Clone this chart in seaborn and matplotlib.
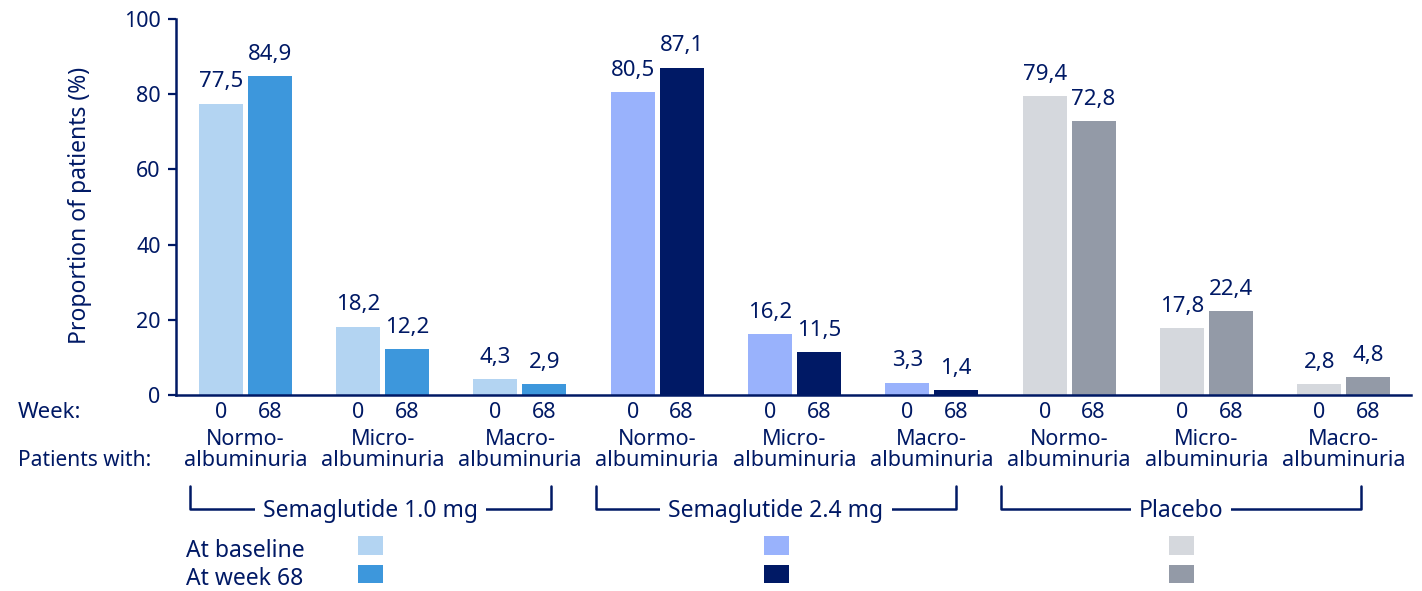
import matplotlib
matplotlib.use("Agg")
import matplotlib.pyplot as plt
import matplotlib.transforms as mtransforms
from matplotlib.patches import Rectangle
import pandas as pd
import seaborn as sns

# ---- data -------------------------------------------------------------
treatments = ["Semaglutide 1.0 mg", "Semaglutide 2.4 mg", "Placebo"]
conditions = ["Normo-\nalbuminuria", "Micro-\nalbuminuria", "Macro-\nalbuminuria"]
weeks = ["0", "68"]
baseline_values = {
    "Semaglutide 1.0 mg": [77.5, 18.2, 4.3],
    "Semaglutide 2.4 mg": [80.5, 16.2, 3.3],
    "Placebo": [79.4, 17.8, 2.8],
}
week68_values = {
    "Semaglutide 1.0 mg": [84.9, 12.2, 2.9],
    "Semaglutide 2.4 mg": [87.1, 11.5, 1.4],
    "Placebo": [72.8, 22.4, 4.8],
}
palettes = {
    "Semaglutide 1.0 mg": ["#b3d4f2", "#3d97dc"],
    "Semaglutide 2.4 mg": ["#99b2fc", "#001965"],
    "Placebo": ["#d5d8dd", "#939aa7"],
}
legend_labels = ["At baseline", "At week 68"]
yticks = [0, 20, 40, 60, 80, 100]

# ---- long table -------------------------------------------------------
rows = []
slots = []
for t in treatments:
    for j, cond in enumerate(conditions):
        slot = f"{t}|{cond}"
        slots.append(slot)
        rows.append(dict(treatment=t, slot=slot, week="0", value=baseline_values[t][j]))
        rows.append(dict(treatment=t, slot=slot, week="68", value=week68_values[t][j]))
df = pd.DataFrame(rows)

# ---- style ------------------------------------------------------------
NAVY = "#001965"
sns.set_style("white")
plt.rcParams["font.family"] = ["Noto Sans", "DejaVu Sans"]
plt.rcParams["text.color"] = NAVY
plt.rcParams["axes.labelcolor"] = NAVY
plt.rcParams["xtick.color"] = NAVY
plt.rcParams["ytick.color"] = NAVY

W, H = 1422, 591
fig = plt.figure(figsize=(W / 100, H / 100), dpi=100)


def fx(px):
    return px / W


def fy(py):
    return 1 - py / H


ax = fig.add_axes([fx(176), fy(395), fx(1411) - fx(176), fy(19) - fy(395)])

BAR_GROUP_WIDTH = 0.712
for t in treatments:
    sub = df[df.treatment == t]
    sns.barplot(
        data=sub, x="slot", y="value", hue="week",
        order=slots, hue_order=weeks, palette=palettes[t],
        width=BAR_GROUP_WIDTH, gap=0.1, saturation=1,
        errorbar=None, legend=False, linewidth=0, ax=ax,
    )

# value labels above bars
for container in ax.containers:
    labels = [f"{b.get_height():.1f}".replace(".", ",") for b in container]
    ax.bar_label(container, labels=labels, padding=8, fontsize=16, color=NAVY)

ax.set_xlim(-0.505, 8.49)
ax.set_ylim(0, 100)
ax.set_yticks(yticks)
ax.set_xlabel("")
ax.set_ylabel("")
ax.tick_params(axis="y", length=6, width=1.6, labelsize=15.5, pad=5, direction="out", left=True)
ax.tick_params(axis="x", bottom=False, labelbottom=False)
for side in ["top", "right"]:
    ax.spines[side].set_visible(False)
for side in ["left", "bottom"]:
    ax.spines[side].set_color(NAVY)
    ax.spines[side].set_linewidth(1.8)

fig.text(fx(80), fy(205), "Proportion of patients (%)", rotation=90,
         ha="center", va="center", fontsize=16.5, color=NAVY)

# ---- category annotations below the axis ------------------------------
xfig = mtransforms.blended_transform_factory(ax.transData, fig.transFigure)
offset = BAR_GROUP_WIDTH / 4
for i, slot in enumerate(slots):
    cond = conditions[i % 3]
    ax.text(i - offset, fy(413), weeks[0], transform=xfig, ha="center", va="center", fontsize=15.5)
    ax.text(i + offset, fy(413), weeks[1], transform=xfig, ha="center", va="center", fontsize=15.5)
    ax.text(i, fy(450), cond, transform=xfig, ha="center", va="center",
            fontsize=15.5, linespacing=1.0)

fig.text(fx(18), fy(413), "Week:", ha="left", va="center", fontsize=16)
fig.text(fx(18), fy(461), "Patients with:", ha="left", va="center", fontsize=15)

# treatment brackets
bracket_px = [(190, 551), (596, 956), (1001, 1361)]
for t, (x0, x1) in zip(treatments, bracket_px):
    xs = [fx(x0), fx(x0), fx(x1), fx(x1)]
    ys = [fy(486), fy(509), fy(509), fy(486)]
    fig.add_artist(plt.Line2D(xs, ys, color=NAVY, lw=1.8, transform=fig.transFigure))
    fig.text(fx((x0 + x1) / 2), fy(511), t, ha="center", va="center", fontsize=16.5,
             zorder=5, bbox=dict(boxstyle="square,pad=0.35", fc="white", ec="none"))
    # legend swatches under each bracket
    cx = (x0 + x1) / 2
    for k, (y0, y1) in enumerate([(536, 555), (565, 583)]):
        fig.add_artist(Rectangle((fx(cx - 12.5), fy(y1)), fx(25), fy(y0) - fy(y1),
                                 transform=fig.transFigure, fc=palettes[t][k], ec="none"))

fig.text(fx(186), fy(551), legend_labels[0], ha="left", va="center", fontsize=16.5)
fig.text(fx(186), fy(579), legend_labels[1], ha="left", va="center", fontsize=16.5)

fig.savefig("out.png", dpi=100)
